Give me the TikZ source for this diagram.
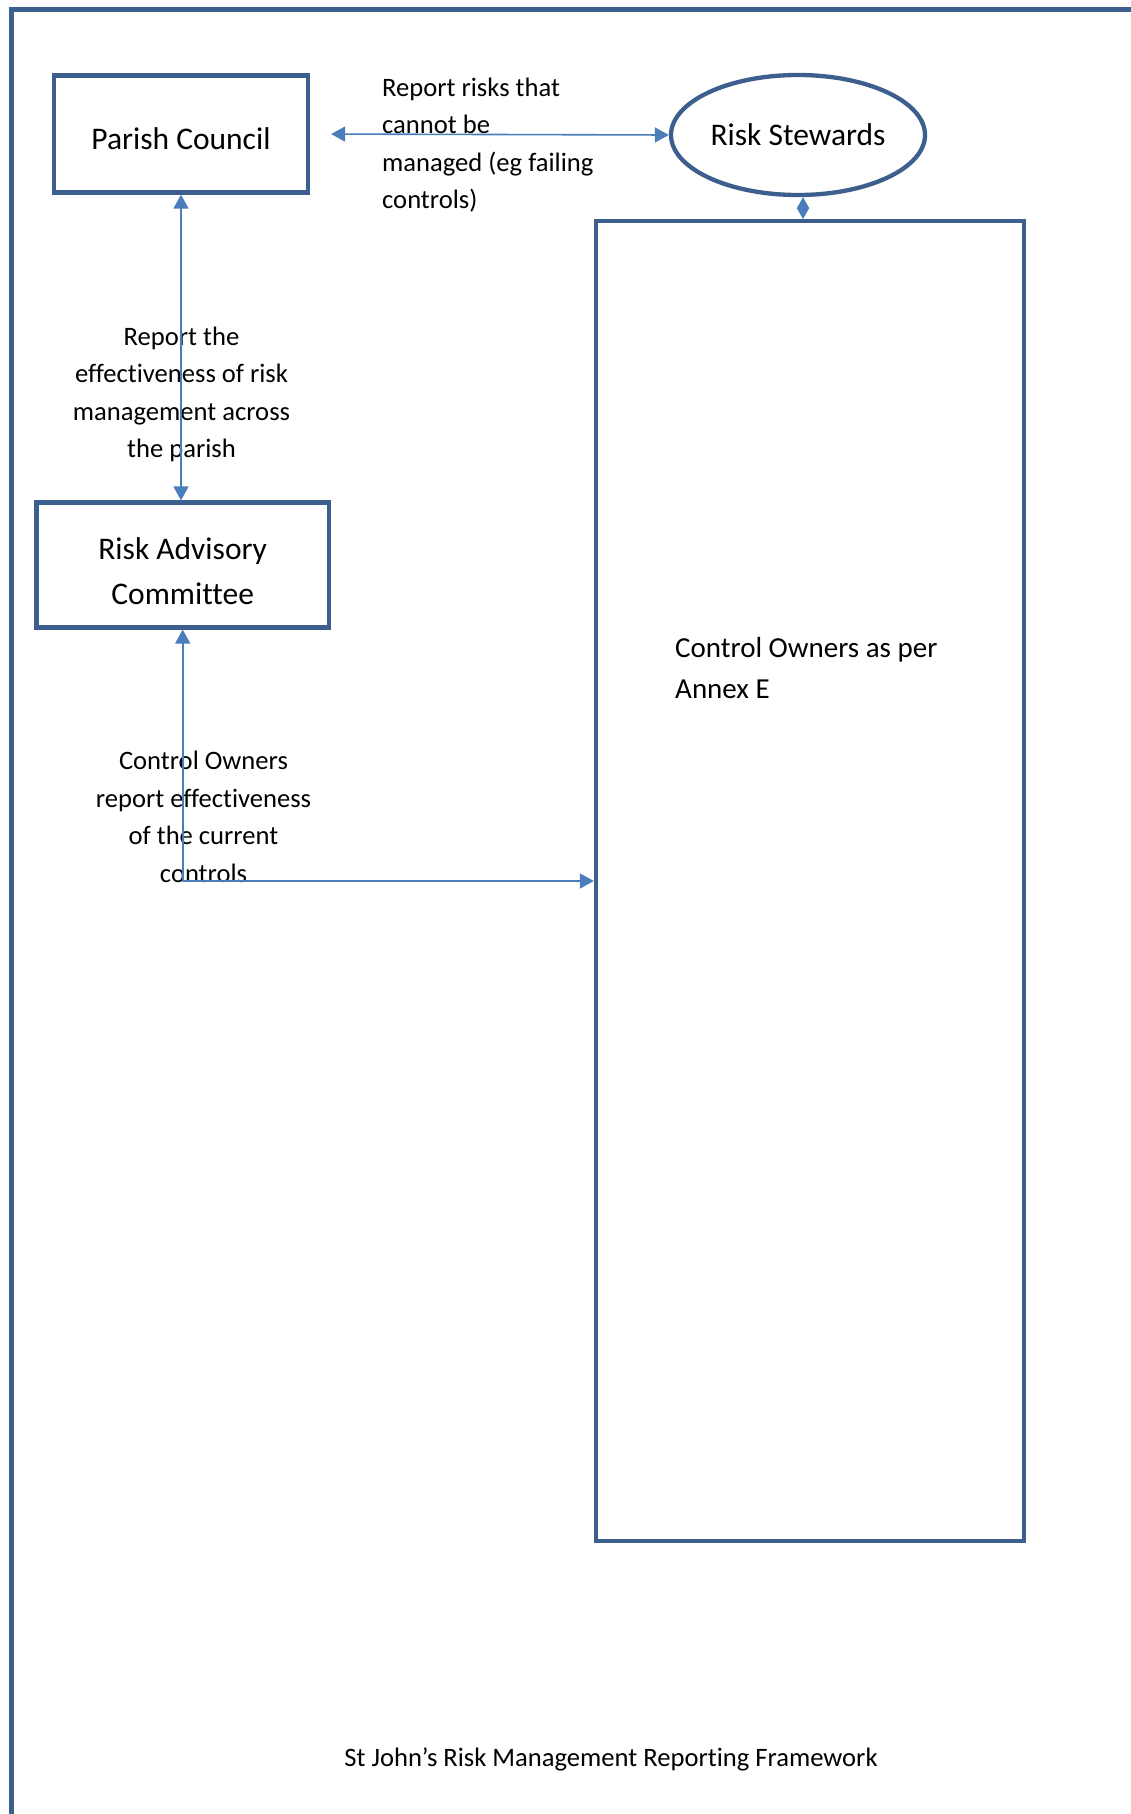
\documentclass[tikz,border=0pt]{standalone}
\usepackage{fontspec}
\setmainfont{Carlito}[Ligatures={NoCommon}]
\usetikzlibrary{shapes.geometric,arrows.meta}
\definecolor{boxblue}{HTML}{3C5F8E}
\definecolor{arrblue}{HTML}{4A7EBB}
\tikzset{
  boxnode/.style={draw=boxblue,line width=4.3pt,rectangle,inner sep=0pt},
  ovalnode/.style={draw=boxblue,line width=4.3pt,ellipse,inner sep=0pt,align=center,
    font=\fontsize{31.5pt}{45pt}\selectfont},
  boxtext/.style={inner sep=0pt,align=center,font=\fontsize{31.5pt}{45pt}\selectfont},
  lbl/.style={inner sep=0pt,font=\fontsize{26.6pt}{37.5pt}\selectfont},
  conn/.style={draw=arrblue,line width=1.6pt,{Triangle[length=14pt,width=15pt]}-{Triangle[length=14pt,width=15pt]}},
}
\begin{document}
\begin{tikzpicture}[x=1pt,y=-1pt]
\useasboundingbox (0,0) rectangle (1131,1814);
\clip (0,0) rectangle (1131,1814);
\fill[white] (0,0) rectangle (1131,1814);
% outer frame
\draw[boxblue,line width=4.3pt] (11.5,1840) -- (11.5,9.5) -- (1160,9.5);
% nodes
\node[boxnode,minimum width=254pt,minimum height=117pt] (pc) at (181,134) {};
\node[boxtext] (pctext) at ([yshift=-4.6pt]pc.center) {Parish Council};
\node[ovalnode,minimum width=254pt,minimum height=120pt] (rs) at (798,135) {Risk Stewards};
\node[boxnode,minimum width=292.5pt,minimum height=125pt] (rac) at (182.7,565) {};
\node[boxtext] (ractext) at ([yshift=-5.8pt]rac.center) {Risk Advisory\\Committee};
\node[boxnode,minimum width=428pt,minimum height=1319.5pt] (co) at (810,881) {};
\node[inner sep=0pt,align=left,anchor=west,font=\fontsize{29pt}{41pt}\selectfont] (colbl) at (675,668.5) {Control Owners as per\\Annex E};
% labels
\node[lbl,align=left,anchor=west] (l1) at (382,145) {Report risks that\\cannot be\\managed (eg failing\\controls)};
\node[lbl,align=center] (l2) at (181.5,394.5) {Report the\\effectiveness of risk\\management across\\the parish};
\node[lbl,align=center] (l3) at (203.5,817) {Control Owners\\report effectiveness\\of the current\\controls};
\node[lbl] (title) at (611,1759) {St John’s Risk Management Reporting Framework};
% connectors
\coordinate (corner) at (182.7,881);
\draw[conn,shorten <=21pt] (pc.east) -- (rs.west);
\draw[conn] (pc.south) -- (pc.south |- rac.north);
\draw[conn] (rac.south) -- (corner) -- (co.west);
\draw[draw=arrblue,line width=1.6pt,{Triangle[length=11pt,width=12pt]}-{Triangle[length=11pt,width=12pt]}] ([xshift=5pt]rs.south) -- ([xshift=5pt]rs.south |- co.north);
\end{tikzpicture}
\end{document}
